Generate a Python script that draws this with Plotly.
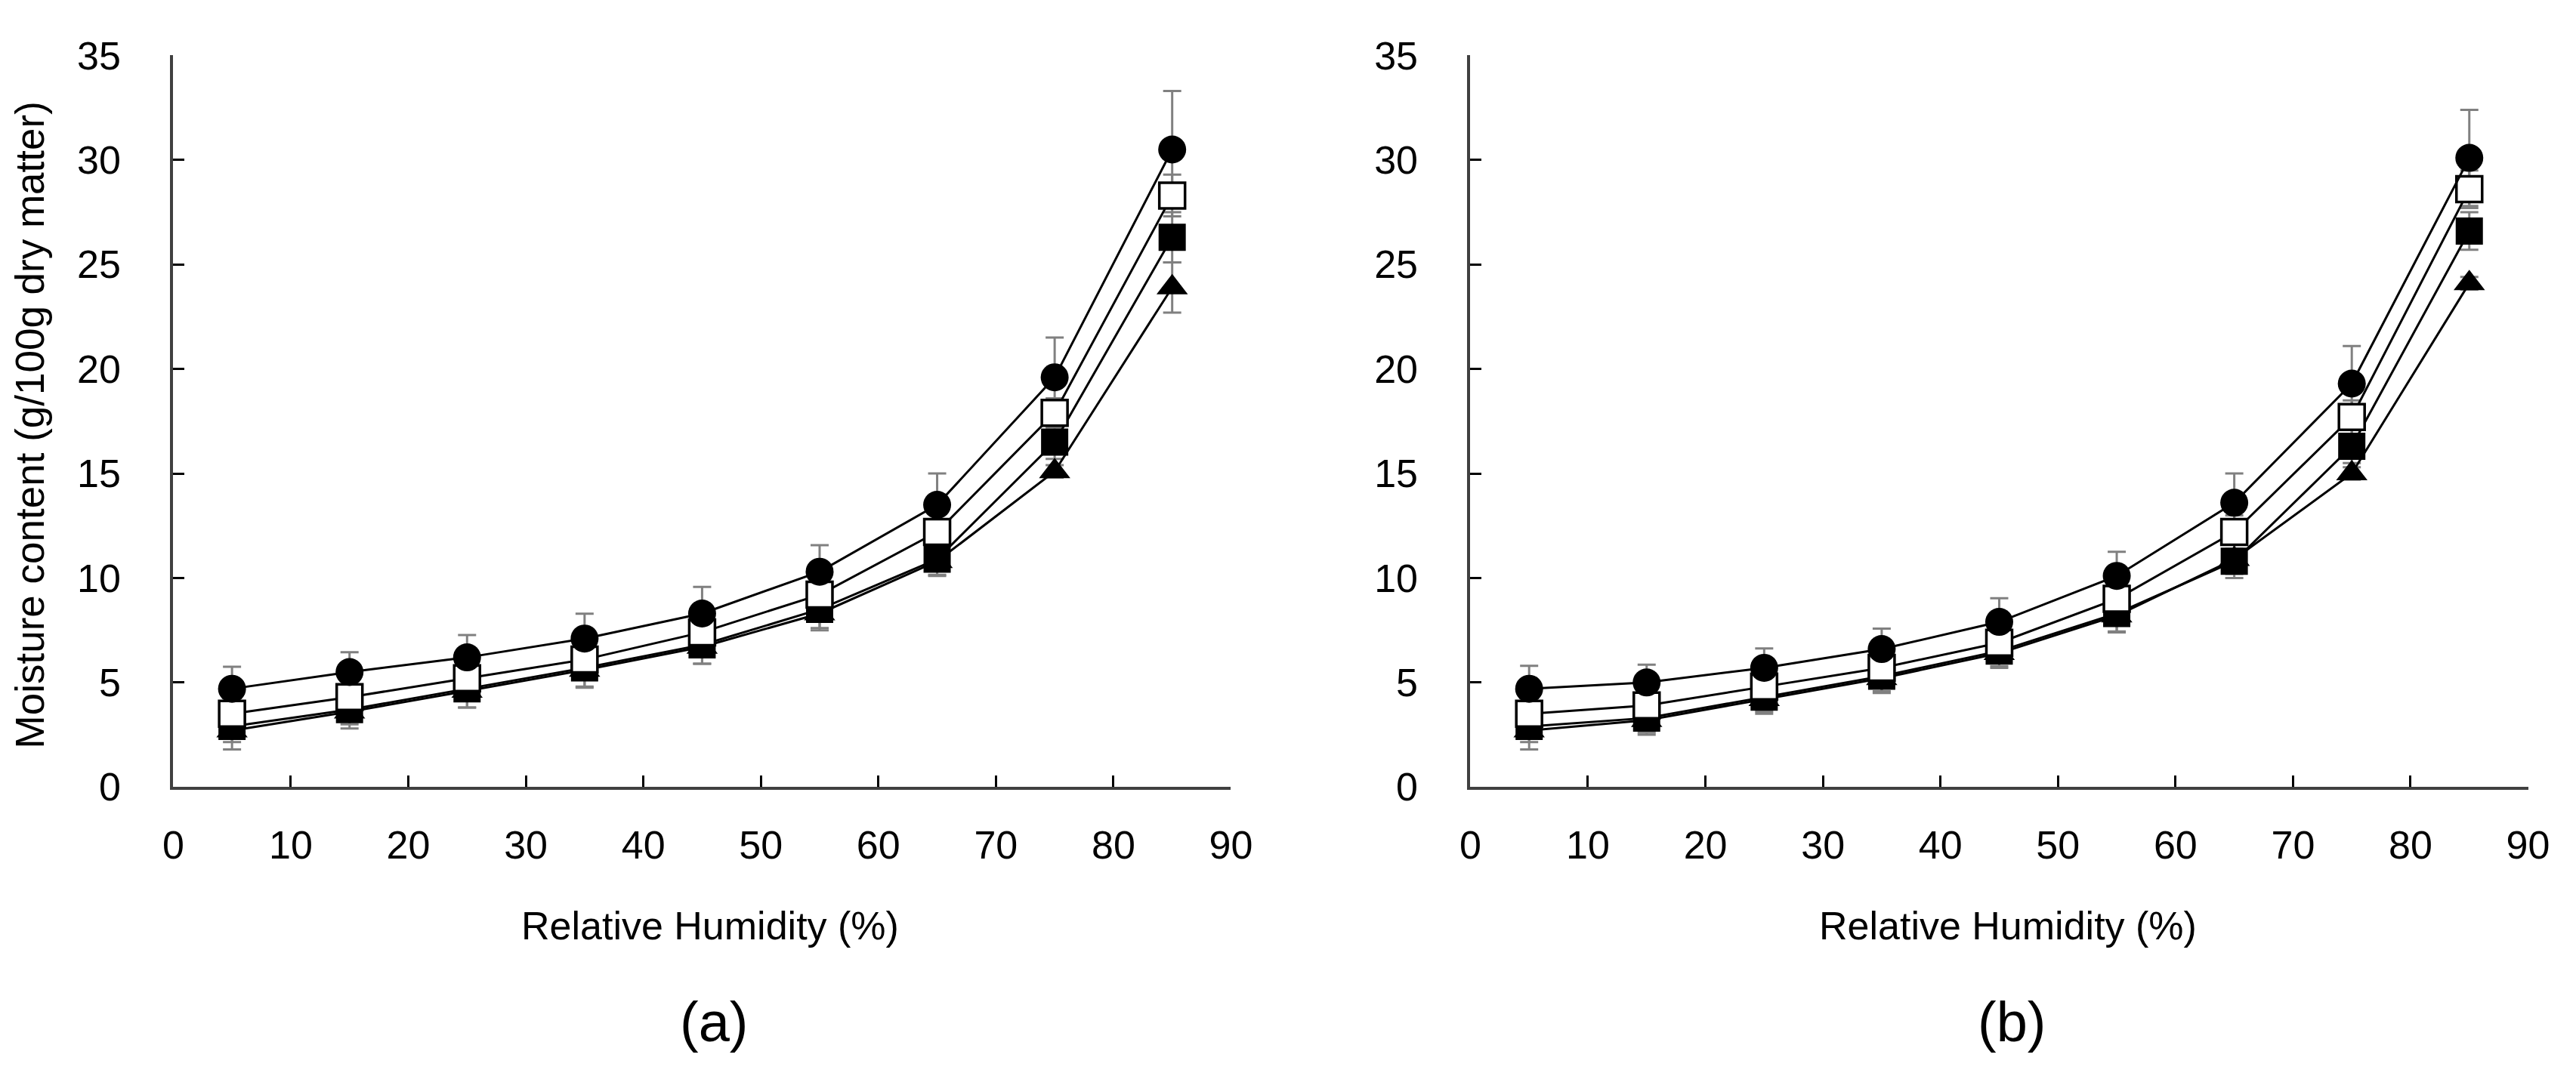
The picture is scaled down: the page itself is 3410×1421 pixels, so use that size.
import plotly.graph_objects as go

# Relative humidity levels (%)
rh = [5, 15, 25, 35, 45, 55, 65, 75, 85]

# Panel (a): moisture content (g/100g dry matter) and SD
a_circle = [4.7, 5.5, 6.2, 7.1, 8.3, 10.3, 13.5, 19.6, 30.5]
a_circle_sd = [1.05, 0.95, 1.07, 1.19, 1.27, 1.27, 1.5, 1.9, 2.8]
a_open = [3.5, 4.3, 5.2, 6.1, 7.4, 9.2, 12.2, 17.9, 28.3]
a_open_sd = [0.6, 0.6, 0.6, 0.7, 0.8, 0.9, 1.0, 0.7, 1.0]
a_filled = [2.9, 3.7, 4.7, 5.7, 6.8, 8.5, 10.9, 16.5, 26.3]
a_filled_sd = [0.75, 0.7, 0.9, 0.95, 0.9, 0.9, 0.75, 0.8, 1.2]
a_tri = [2.7, 3.6, 4.6, 5.6, 6.7, 8.3, 10.8, 15.1, 23.9]
a_tri_sd = [0.9, 0.8, 0.8, 0.8, 0.8, 0.8, 0.7, 0.3, 1.2]

# Panel (b)
b_circle = [4.7, 5.0, 5.7, 6.6, 7.9, 10.1, 13.6, 19.3, 30.1]
b_circle_sd = [1.1, 0.85, 0.93, 0.98, 1.13, 1.15, 1.4, 1.8, 2.3]
b_open = [3.5, 3.9, 4.8, 5.7, 6.9, 9.0, 12.2, 17.7, 28.6]
b_open_sd = [0.5, 0.5, 0.5, 0.6, 0.6, 0.7, 0.8, 0.8, 0.9]
b_filled = [2.9, 3.3, 4.3, 5.3, 6.5, 8.3, 10.8, 16.3, 26.6]
b_filled_sd = [0.75, 0.7, 0.7, 0.72, 0.72, 0.86, 0.8, 0.8, 0.9]
b_tri = [2.7, 3.2, 4.2, 5.2, 6.4, 8.2, 10.9, 15.0, 24.1]
b_tri_sd = [0.9, 0.7, 0.7, 0.7, 0.7, 0.8, 0.7, 0.3, 0.3]

FONT = "Liberation Sans, Arial, sans-serif"

# drawing order: triangle, filled square, open square, circle
styles = [
    dict(symbol="triangle-up", size=36, color="black", line=dict(color="black", width=0)),
    dict(symbol="square", size=36, color="black", line=dict(color="black", width=0)),
    dict(symbol="square", size=34, color="white", line=dict(color="black", width=3.5)),
    dict(symbol="circle", size=37, color="black", line=dict(color="black", width=0)),
]

panels = [
    ("x", "y", [a_tri, a_filled, a_open, a_circle], [a_tri_sd, a_filled_sd, a_open_sd, a_circle_sd]),
    ("x2", "y2", [b_tri, b_filled, b_open, b_circle], [b_tri_sd, b_filled_sd, b_open_sd, b_circle_sd]),
]

fig = go.Figure()

# error bars first so markers sit on top of them
for xa, ya, series, sds in panels:
    for vals, sd in zip(series, sds):
        fig.add_trace(go.Scatter(
            x=rh, y=vals, xaxis=xa, yaxis=ya, mode="markers",
            marker=dict(size=1, opacity=0),
            error_y=dict(type="data", array=sd, visible=True,
                         color="#808080", thickness=3, width=12),
            showlegend=False, hoverinfo="skip",
        ))

for xa, ya, series, sds in panels:
    for vals, st in zip(series, styles):
        fig.add_trace(go.Scatter(
            x=rh, y=vals, xaxis=xa, yaxis=ya, mode="lines+markers",
            line=dict(color="black", width=3),
            marker=st, showlegend=False,
        ))

x_common = dict(range=[0, 90], dtick=10, tick0=0, showgrid=False, zeroline=False,
                showline=True, linecolor="#404040", linewidth=4,
                ticks="inside", ticklen=15, tickwidth=3, tickcolor="black",
                tickfont=dict(family=FONT, size=52, color="black"),
                ticklabelstandoff=28)
y_common = dict(range=[0, 35], dtick=5, tick0=0, showgrid=False, zeroline=False,
                showline=True, linecolor="#404040", linewidth=4,
                ticks="inside", ticklen=15, tickwidth=3, tickcolor="black",
                tickfont=dict(family=FONT, size=52, color="black"),
                ticklabelstandoff=55)

W, H = 3410, 1421
ydom = [(H - 1048) / H, (H - 38) / H]

fig.update_layout(
    width=W, height=H,
    margin=dict(l=0, r=0, t=0, b=0),
    paper_bgcolor="white", plot_bgcolor="white",
    xaxis=dict(domain=[210 / W, 1628 / W], anchor="y", **x_common),
    yaxis=dict(domain=ydom, anchor="x", **y_common),
    xaxis2=dict(domain=[1949 / W, 3367 / W], anchor="y2", **x_common),
    yaxis2=dict(domain=ydom, anchor="x2", **y_common),
)

# axis titles and panel labels
for cx, lab in [(930, "(a)"), (2670, "(b)")]:
    fig.add_annotation(x=cx / W, y=(H - 1240) / H, xref="paper", yref="paper",
                       xanchor="center", yanchor="middle",
                       text="Relative Humidity (%)", showarrow=False,
                       font=dict(family=FONT, size=52, color="black"))
    fig.add_annotation(x=(cx + 5) / W, y=(H - 1372) / H, xref="paper", yref="paper",
                       xanchor="center", yanchor="middle",
                       text=lab, showarrow=False,
                       font=dict(family=FONT, size=74, color="black"))

fig.add_annotation(x=18 / W, y=(H - 548) / H, xref="paper", yref="paper",
                   xanchor="center", yanchor="middle",
                   text="Moisture content (g/100g dry matter)", textangle=-90,
                   showarrow=False, font=dict(family=FONT, size=53, color="black"))

fig.write_html("out.html")
